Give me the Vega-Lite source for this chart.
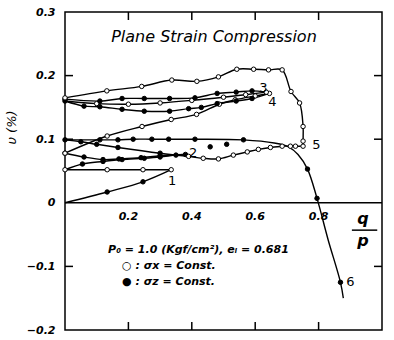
{
  "$schema": "https://vega.github.io/schema/vega-lite/v6.json",
  "width": 317,
  "height": 318,
  "autosize": {"type": "none"},
  "padding": {"left": 65, "top": 12, "right": 12, "bottom": 10},
  "background": "white",
  "config": {
    "view": {"stroke": "black", "strokeWidth": 1.5},
    "font": "DejaVu Sans",
    "axis": {
      "grid": false, "domain": false, "ticks": false,
      "labelFont": "DejaVu Sans", "labelFontStyle": "italic", "labelFontWeight": "bold",
      "labelFontSize": 11, "labelColor": "black"
    }
  },
  "datasets": {
    "curves": [
      {"s": "1a", "c": "sz", "i": 0, "q": 0, "v": 0, "pt": 0},
      {"s": "1a", "c": "sz", "i": 1, "q": 0.133, "v": 0.017, "pt": 1},
      {"s": "1a", "c": "sz", "i": 2, "q": 0.246, "v": 0.033, "pt": 1},
      {"s": "1a", "c": "sz", "i": 3, "q": 0.335, "v": 0.052, "pt": 0},
      {"s": "1b", "c": "sx", "i": 0, "q": 0.335, "v": 0.052, "pt": 1},
      {"s": "1b", "c": "sx", "i": 1, "q": 0.246, "v": 0.052, "pt": 1},
      {"s": "1b", "c": "sx", "i": 2, "q": 0.133, "v": 0.052, "pt": 1},
      {"s": "1b", "c": "sx", "i": 3, "q": 0, "v": 0.052, "pt": 1},
      {"s": "2a", "c": "sz", "i": 0, "q": 0, "v": 0.052, "pt": 0},
      {"s": "2a", "c": "sz", "i": 1, "q": 0.055, "v": 0.061, "pt": 1},
      {"s": "2a", "c": "sz", "i": 2, "q": 0.12, "v": 0.065, "pt": 1},
      {"s": "2a", "c": "sz", "i": 3, "q": 0.18, "v": 0.068, "pt": 1},
      {"s": "2a", "c": "sz", "i": 4, "q": 0.25, "v": 0.070, "pt": 1},
      {"s": "2a", "c": "sz", "i": 5, "q": 0.3, "v": 0.072, "pt": 1},
      {"s": "2a", "c": "sz", "i": 6, "q": 0.35, "v": 0.075, "pt": 1},
      {"s": "2a", "c": "sz", "i": 7, "q": 0.38, "v": 0.076, "pt": 1},
      {"s": "2b", "c": "sz", "i": 0, "q": 0.38, "v": 0.076, "pt": 0},
      {"s": "2b", "c": "sz", "i": 1, "q": 0.3, "v": 0.074, "pt": 1},
      {"s": "2b", "c": "sz", "i": 2, "q": 0.24, "v": 0.071, "pt": 1},
      {"s": "2b", "c": "sz", "i": 3, "q": 0.17, "v": 0.069, "pt": 1},
      {"s": "2b", "c": "sz", "i": 4, "q": 0.12, "v": 0.068, "pt": 1},
      {"s": "2b", "c": "sz", "i": 5, "q": 0.06, "v": 0.072, "pt": 1},
      {"s": "2b", "c": "sz", "i": 6, "q": 0, "v": 0.078, "pt": 1},
      {"s": "3a", "c": "sx", "i": 0, "q": 0, "v": 0.078, "pt": 1},
      {"s": "3a", "c": "sx", "i": 1, "q": 0.133, "v": 0.105, "pt": 1},
      {"s": "3a", "c": "sx", "i": 2, "q": 0.243, "v": 0.12, "pt": 1},
      {"s": "3a", "c": "sx", "i": 3, "q": 0.335, "v": 0.131, "pt": 1},
      {"s": "3a", "c": "sx", "i": 4, "q": 0.415, "v": 0.139, "pt": 1},
      {"s": "3a", "c": "sx", "i": 5, "q": 0.487, "v": 0.155, "pt": 1},
      {"s": "3a", "c": "sx", "i": 6, "q": 0.537, "v": 0.162, "pt": 1},
      {"s": "3a", "c": "sx", "i": 7, "q": 0.6, "v": 0.168, "pt": 1},
      {"s": "3a", "c": "sx", "i": 8, "q": 0.645, "v": 0.172, "pt": 1},
      {"s": "3b", "c": "sz", "i": 0, "q": 0.645, "v": 0.172, "pt": 0},
      {"s": "3b", "c": "sz", "i": 1, "q": 0.59, "v": 0.164, "pt": 1},
      {"s": "3b", "c": "sz", "i": 2, "q": 0.54, "v": 0.160, "pt": 1},
      {"s": "3b", "c": "sz", "i": 3, "q": 0.48, "v": 0.156, "pt": 1},
      {"s": "3b", "c": "sz", "i": 4, "q": 0.43, "v": 0.150, "pt": 1},
      {"s": "3b", "c": "sz", "i": 5, "q": 0.39, "v": 0.148, "pt": 1},
      {"s": "3b", "c": "sz", "i": 6, "q": 0.33, "v": 0.144, "pt": 1},
      {"s": "3b", "c": "sz", "i": 7, "q": 0.25, "v": 0.144, "pt": 1},
      {"s": "3b", "c": "sz", "i": 8, "q": 0.18, "v": 0.147, "pt": 1},
      {"s": "3b", "c": "sz", "i": 9, "q": 0.11, "v": 0.151, "pt": 1},
      {"s": "3b", "c": "sz", "i": 10, "q": 0.06, "v": 0.152, "pt": 1},
      {"s": "3b", "c": "sz", "i": 11, "q": 0, "v": 0.160, "pt": 1},
      {"s": "4a", "c": "sx", "i": 0, "q": 0, "v": 0.160, "pt": 0},
      {"s": "4a", "c": "sx", "i": 1, "q": 0.1, "v": 0.156, "pt": 1},
      {"s": "4a", "c": "sx", "i": 2, "q": 0.2, "v": 0.155, "pt": 1},
      {"s": "4a", "c": "sx", "i": 3, "q": 0.3, "v": 0.157, "pt": 1},
      {"s": "4a", "c": "sx", "i": 4, "q": 0.4, "v": 0.161, "pt": 1},
      {"s": "4a", "c": "sx", "i": 5, "q": 0.5, "v": 0.166, "pt": 1},
      {"s": "4a", "c": "sx", "i": 6, "q": 0.57, "v": 0.170, "pt": 1},
      {"s": "4a", "c": "sx", "i": 7, "q": 0.635, "v": 0.174, "pt": 1},
      {"s": "4b", "c": "sz", "i": 0, "q": 0.635, "v": 0.174, "pt": 0},
      {"s": "4b", "c": "sz", "i": 1, "q": 0.59, "v": 0.176, "pt": 1},
      {"s": "4b", "c": "sz", "i": 2, "q": 0.54, "v": 0.174, "pt": 1},
      {"s": "4b", "c": "sz", "i": 3, "q": 0.48, "v": 0.172, "pt": 1},
      {"s": "4b", "c": "sz", "i": 4, "q": 0.41, "v": 0.165, "pt": 1},
      {"s": "4b", "c": "sz", "i": 5, "q": 0.33, "v": 0.164, "pt": 1},
      {"s": "4b", "c": "sz", "i": 6, "q": 0.25, "v": 0.164, "pt": 1},
      {"s": "4b", "c": "sz", "i": 7, "q": 0.18, "v": 0.164, "pt": 1},
      {"s": "4b", "c": "sz", "i": 8, "q": 0.11, "v": 0.160, "pt": 1},
      {"s": "4b", "c": "sz", "i": 9, "q": 0, "v": 0.163, "pt": 1},
      {"s": "5a", "c": "sx", "i": 0, "q": 0, "v": 0.165, "pt": 1},
      {"s": "5a", "c": "sx", "i": 1, "q": 0.132, "v": 0.176, "pt": 1},
      {"s": "5a", "c": "sx", "i": 2, "q": 0.242, "v": 0.183, "pt": 1},
      {"s": "5a", "c": "sx", "i": 3, "q": 0.337, "v": 0.193, "pt": 1},
      {"s": "5a", "c": "sx", "i": 4, "q": 0.416, "v": 0.191, "pt": 1},
      {"s": "5a", "c": "sx", "i": 5, "q": 0.484, "v": 0.198, "pt": 1},
      {"s": "5a", "c": "sx", "i": 6, "q": 0.542, "v": 0.210, "pt": 1},
      {"s": "5a", "c": "sx", "i": 7, "q": 0.595, "v": 0.210, "pt": 1},
      {"s": "5a", "c": "sx", "i": 8, "q": 0.642, "v": 0.209, "pt": 1},
      {"s": "5a", "c": "sx", "i": 9, "q": 0.685, "v": 0.209, "pt": 1},
      {"s": "5a", "c": "sx", "i": 10, "q": 0.713, "v": 0.175, "pt": 1},
      {"s": "5a", "c": "sx", "i": 11, "q": 0.74, "v": 0.157, "pt": 1},
      {"s": "5a", "c": "sx", "i": 12, "q": 0.751, "v": 0.120, "pt": 1},
      {"s": "5a", "c": "sx", "i": 13, "q": 0.751, "v": 0.097, "pt": 1},
      {"s": "5a", "c": "sx", "i": 14, "q": 0.751, "v": 0.089, "pt": 1},
      {"s": "5b", "c": "sx", "i": 0, "q": 0.751, "v": 0.089, "pt": 0},
      {"s": "5b", "c": "sx", "i": 1, "q": 0.727, "v": 0.089, "pt": 1},
      {"s": "5b", "c": "sx", "i": 2, "q": 0.711, "v": 0.089, "pt": 1},
      {"s": "5b", "c": "sx", "i": 3, "q": 0.685, "v": 0.089, "pt": 1},
      {"s": "5b", "c": "sx", "i": 4, "q": 0.648, "v": 0.087, "pt": 1},
      {"s": "5b", "c": "sx", "i": 5, "q": 0.61, "v": 0.084, "pt": 1},
      {"s": "5b", "c": "sx", "i": 6, "q": 0.575, "v": 0.080, "pt": 1},
      {"s": "5b", "c": "sx", "i": 7, "q": 0.531, "v": 0.075, "pt": 1},
      {"s": "5b", "c": "sx", "i": 8, "q": 0.484, "v": 0.069, "pt": 1},
      {"s": "5b", "c": "sx", "i": 9, "q": 0.436, "v": 0.070, "pt": 1},
      {"s": "5b", "c": "sx", "i": 10, "q": 0.39, "v": 0.073, "pt": 1},
      {"s": "5c", "c": "sz", "i": 0, "q": 0.39, "v": 0.073, "pt": 0},
      {"s": "5c", "c": "sz", "i": 1, "q": 0.3, "v": 0.078, "pt": 1},
      {"s": "5c", "c": "sz", "i": 2, "q": 0.167, "v": 0.087, "pt": 1},
      {"s": "5c", "c": "sz", "i": 3, "q": 0.1, "v": 0.092, "pt": 1},
      {"s": "5c", "c": "sz", "i": 4, "q": 0.05, "v": 0.096, "pt": 1},
      {"s": "5c", "c": "sz", "i": 5, "q": 0, "v": 0.099, "pt": 1},
      {"s": "6", "c": "sz", "i": 0, "q": 0, "v": 0.099, "pt": 0},
      {"s": "6", "c": "sz", "i": 1, "q": 0.11, "v": 0.099, "pt": 1},
      {"s": "6", "c": "sz", "i": 2, "q": 0.167, "v": 0.099, "pt": 1},
      {"s": "6", "c": "sz", "i": 3, "q": 0.215, "v": 0.100, "pt": 1},
      {"s": "6", "c": "sz", "i": 4, "q": 0.274, "v": 0.100, "pt": 1},
      {"s": "6", "c": "sz", "i": 5, "q": 0.327, "v": 0.100, "pt": 1},
      {"s": "6", "c": "sz", "i": 6, "q": 0.41, "v": 0.100, "pt": 1},
      {"s": "6", "c": "sz", "i": 7, "q": 0.563, "v": 0.099, "pt": 1},
      {"s": "6", "c": "sz", "i": 8, "q": 0.66, "v": 0.094, "pt": 0},
      {"s": "6", "c": "sz", "i": 9, "q": 0.705, "v": 0.088, "pt": 0},
      {"s": "6", "c": "sz", "i": 10, "q": 0.735, "v": 0.076, "pt": 0},
      {"s": "6", "c": "sz", "i": 11, "q": 0.765, "v": 0.053, "pt": 1},
      {"s": "6", "c": "sz", "i": 12, "q": 0.795, "v": 0.007, "pt": 1},
      {"s": "6", "c": "sz", "i": 13, "q": 0.83, "v": -0.058, "pt": 0},
      {"s": "6", "c": "sz", "i": 14, "q": 0.869, "v": -0.125, "pt": 1},
      {"s": "6", "c": "sz", "i": 15, "q": 0.878, "v": -0.15, "pt": 0},
      {"s": "x1", "c": "sz", "i": 0, "q": 0.458, "v": 0.088, "pt": 1},
      {"s": "x2", "c": "sz", "i": 0, "q": 0.51, "v": 0.092, "pt": 1}
    ],
    "notes": [
      {"role": "title", "q": 0.47, "v": 0.261, "t": "Plane Strain Compression"},
      {"role": "num", "q": 0.338, "v": 0.034, "t": "1"},
      {"role": "num", "q": 0.404, "v": 0.078, "t": "2"},
      {"role": "num", "q": 0.626, "v": 0.18, "t": "3"},
      {"role": "num", "q": 0.654, "v": 0.158, "t": "4"},
      {"role": "num", "q": 0.793, "v": 0.091, "t": "5"},
      {"role": "num", "q": 0.9, "v": -0.125, "t": "6"},
      {"role": "tick", "q": 0.2, "v": -0.022, "t": "0.2"},
      {"role": "tick", "q": 0.4, "v": -0.022, "t": "0.4"},
      {"role": "tick", "q": 0.6, "v": -0.022, "t": "0.6"},
      {"role": "tick", "q": 0.8, "v": -0.022, "t": "0.8"},
      {"role": "frac", "q": 0.94, "v": -0.026, "t": "q"},
      {"role": "frac", "q": 0.94, "v": -0.06, "t": "p"},
      {"role": "legend", "q": 0.136, "v": -0.074, "t": "P₀ = 1.0 (Kgf/cm²), eᵢ = 0.681"},
      {"role": "legend", "q": 0.18, "v": -0.1, "t": "○  :  σx = Const."},
      {"role": "legend", "q": 0.18, "v": -0.125, "t": "●  :  σz = Const."}
    ],
    "frame": [
      {"side": "b", "q": 0.2, "v": -0.2}, {"side": "b", "q": 0.4, "v": -0.2}, {"side": "b", "q": 0.6, "v": -0.2}, {"side": "b", "q": 0.8, "v": -0.2},
      {"side": "t", "q": 0.2, "v": 0.3}, {"side": "t", "q": 0.4, "v": 0.3}, {"side": "t", "q": 0.6, "v": 0.3}, {"side": "t", "q": 0.8, "v": 0.3},
      {"side": "l", "q": 0, "v": 0.2}, {"side": "l", "q": 0, "v": 0.1}, {"side": "l", "q": 0, "v": -0.1},
      {"side": "r", "q": 1, "v": 0.2}, {"side": "r", "q": 1, "v": 0.1}, {"side": "r", "q": 1, "v": -0.1}
    ],
    "zero": [{"v": 0}]
  },
  "layer": [
    {
      "data": {"name": "curves"},
      "mark": {"type": "line", "interpolate": "catmull-rom", "color": "black", "strokeWidth": 1.4},
      "encoding": {
        "x": {"field": "q", "type": "quantitative", "scale": {"domain": [0, 1], "nice": false, "zero": false}, "axis": null},
        "y": {"field": "v", "type": "quantitative", "scale": {"domain": [-0.2, 0.3], "nice": false, "zero": false},
              "axis": {"orient": "left", "values": [-0.2, -0.1, 0, 0.1, 0.2, 0.3], "labelPadding": 10,
                       "labelExpr": "datum.value == 0 ? '0' : replace(format(datum.value, '.1f'), '-', '−')",
                       "title": "υ (%)", "titleFont": "DejaVu Sans", "titleFontStyle": "italic", "titleFontWeight": "normal",
                       "titleFontSize": 13, "titleColor": "black", "titleX": -47, "titleY": 115}},
        "detail": {"field": "s"},
        "order": {"field": "i", "type": "quantitative"}
      }
    },
    {
      "data": {"name": "curves"},
      "transform": [{"filter": "datum.pt == 1"}],
      "mark": {"type": "point", "shape": "circle", "stroke": "black", "strokeWidth": 1, "size": 20, "opacity": 1},
      "encoding": {
        "x": {"field": "q", "type": "quantitative", "axis": null},
        "y": {"field": "v", "type": "quantitative", "axis": null},
        "fill": {"field": "c", "type": "nominal", "scale": {"domain": ["sx", "sz"], "range": ["white", "black"]}, "legend": null}
      }
    },
    {
      "data": {"name": "zero"},
      "mark": {"type": "rule", "color": "black", "strokeWidth": 1.5},
      "encoding": {"y": {"field": "v", "type": "quantitative", "axis": null}}
    },
    {
      "data": {"name": "frame"},
      "transform": [{"filter": "datum.side == 'b'"}],
      "mark": {"type": "tick", "orient": "vertical", "color": "black", "size": 8, "thickness": 1.5, "opacity": 1, "yOffset": -4},
      "encoding": {"x": {"field": "q", "type": "quantitative", "axis": null}, "y": {"field": "v", "type": "quantitative", "axis": null}}
    },
    {
      "data": {"name": "frame"},
      "transform": [{"filter": "datum.side == 't'"}],
      "mark": {"type": "tick", "orient": "vertical", "color": "black", "size": 8, "thickness": 1.5, "opacity": 1, "yOffset": 4},
      "encoding": {"x": {"field": "q", "type": "quantitative", "axis": null}, "y": {"field": "v", "type": "quantitative", "axis": null}}
    },
    {
      "data": {"name": "frame"},
      "transform": [{"filter": "datum.side == 'l'"}],
      "mark": {"type": "tick", "orient": "horizontal", "color": "black", "size": 8, "thickness": 1.5, "opacity": 1, "xOffset": 4},
      "encoding": {"x": {"field": "q", "type": "quantitative", "axis": null}, "y": {"field": "v", "type": "quantitative", "axis": null}}
    },
    {
      "data": {"name": "frame"},
      "transform": [{"filter": "datum.side == 'r'"}],
      "mark": {"type": "tick", "orient": "horizontal", "color": "black", "size": 8, "thickness": 1.5, "opacity": 1, "xOffset": -4},
      "encoding": {"x": {"field": "q", "type": "quantitative", "axis": null}, "y": {"field": "v", "type": "quantitative", "axis": null}}
    },
    {
      "data": {"name": "notes"},
      "transform": [{"filter": "datum.role == 'title'"}],
      "mark": {"type": "text", "font": "DejaVu Sans", "fontStyle": "italic", "fontSize": 16, "color": "black", "align": "center", "baseline": "middle"},
      "encoding": {"x": {"field": "q", "type": "quantitative", "axis": null}, "y": {"field": "v", "type": "quantitative", "axis": null}, "text": {"field": "t"}}
    },
    {
      "data": {"name": "notes"},
      "transform": [{"filter": "datum.role == 'num'"}],
      "mark": {"type": "text", "font": "DejaVu Sans", "fontSize": 13, "color": "black", "align": "center", "baseline": "middle"},
      "encoding": {"x": {"field": "q", "type": "quantitative", "axis": null}, "y": {"field": "v", "type": "quantitative", "axis": null}, "text": {"field": "t"}}
    },
    {
      "data": {"name": "notes"},
      "transform": [{"filter": "datum.role == 'tick'"}],
      "mark": {"type": "text", "font": "DejaVu Sans", "fontStyle": "italic", "fontWeight": "bold", "fontSize": 11, "color": "black", "align": "center", "baseline": "middle"},
      "encoding": {"x": {"field": "q", "type": "quantitative", "axis": null}, "y": {"field": "v", "type": "quantitative", "axis": null}, "text": {"field": "t"}}
    },
    {
      "data": {"name": "notes"},
      "transform": [{"filter": "datum.role == 'frac'"}],
      "mark": {"type": "text", "font": "DejaVu Sans", "fontStyle": "italic", "fontWeight": "bold", "fontSize": 16, "color": "black", "align": "center", "baseline": "middle"},
      "encoding": {"x": {"field": "q", "type": "quantitative", "axis": null}, "y": {"field": "v", "type": "quantitative", "axis": null}, "text": {"field": "t"}}
    },
    {
      "data": {"values": [{"q": 0.905, "q2": 0.985, "v": -0.043}]},
      "mark": {"type": "rule", "color": "black", "strokeWidth": 1.5},
      "encoding": {"x": {"field": "q", "type": "quantitative", "axis": null}, "x2": {"field": "q2"}, "y": {"field": "v", "type": "quantitative", "axis": null}}
    },
    {
      "data": {"name": "notes"},
      "transform": [{"filter": "datum.role == 'legend'"}],
      "mark": {"type": "text", "font": "DejaVu Sans", "fontStyle": "italic", "fontWeight": "bold", "fontSize": 11, "color": "black", "align": "left", "baseline": "middle"},
      "encoding": {"x": {"field": "q", "type": "quantitative", "axis": null}, "y": {"field": "v", "type": "quantitative", "axis": null}, "text": {"field": "t"}}
    }
  ],
  "resolve": {"axis": {"x": "independent", "y": "independent"}}
}
